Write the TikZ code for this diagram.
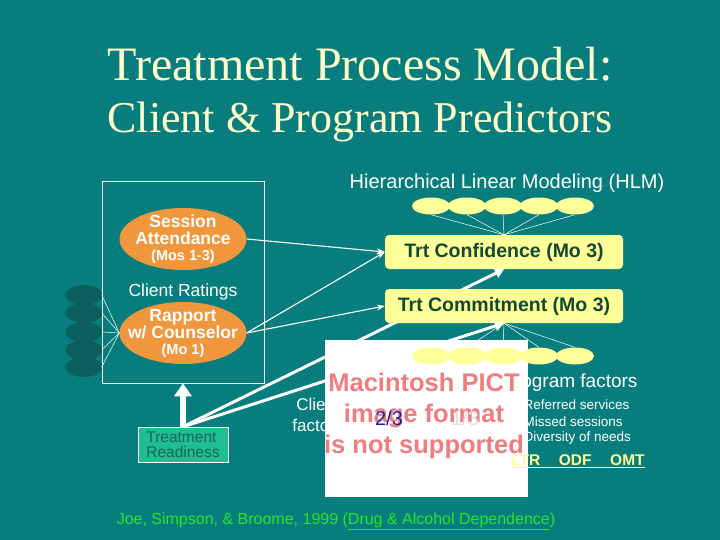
\documentclass[tikz,border=0pt]{standalone}
\usepackage{fontspec}
\setmainfont{Liberation Serif}
\setsansfont{Liberation Sans}
\usetikzlibrary{arrows.meta,shapes.geometric}
\definecolor{bg}{RGB}{8,125,125}
\definecolor{titlecol}{RGB}{255,255,204}
\definecolor{boxyel}{RGB}{255,255,153}
\definecolor{boxtxt}{RGB}{20,72,50}
\definecolor{orng}{RGB}{240,150,60}
\definecolor{darkell}{RGB}{12,95,95}
\definecolor{trgreen}{RGB}{30,190,145}
\definecolor{trtxt}{RGB}{25,100,90}
\definecolor{pict}{RGB}{240,125,125}
\definecolor{citegreen}{RGB}{40,230,40}
\definecolor{pictblue}{RGB}{30,30,170}
\tikzset{
  fs/.style={font=\fontsize{#1}{#1}\selectfont\sffamily},
  yell/.style={ellipse,fill=boxyel,minimum width=38pt,minimum height=17pt,inner sep=0pt},
  dell/.style={ellipse,fill=darkell,minimum width=37pt,minimum height=20pt,inner sep=0pt},
  oell/.style={ellipse,fill=orng,minimum width=127pt,minimum height=62pt,inner xsep=-14pt,inner ysep=-6pt,
     text=white,align=center,font=\fontsize{17.5}{17}\selectfont\sffamily\bfseries},
  ybox/.style={rectangle,rounded corners=4pt,fill=boxyel,minimum width=238pt,minimum height=34pt,
     text=boxtxt,font=\fontsize{19.5}{20}\selectfont\sffamily\bfseries},
  thin/.style={white,line width=0.5pt},
  thinarr/.style={white,line width=1.1pt,-{Stealth[length=8pt,width=6pt]}},
  thickarr/.style={white,line width=3pt,-{Triangle[length=9pt,width=10pt]}},
}
\begin{document}
\begin{tikzpicture}[x=1pt,y=-1pt]
\fill[bg] (0,0) rectangle (720,540);
\useasboundingbox (0,0) rectangle (720,540);
% titles
\node[text=titlecol,font=\fontsize{48}{48}\selectfont] (t1) at (360,64) {Treatment Process Model:};
\node[text=titlecol,font=\fontsize{44}{44}\selectfont] (t2) at (360,122) {Client \& Program Predictors};
\node[text=white,fs=20] (hlm) at (507,183) {Hierarchical Linear Modeling (HLM)};
% left dark ellipses
\foreach \i/\yy in {1/295,2/313,3/332,4/350,5/367}{
  \node[dell] (d\i) at (84,\yy) {};
}
% left box
\node[draw=white,line width=0.6pt,minimum width=162pt,minimum height=202pt,inner sep=0pt] (lb) at (183,282) {};
% orange ellipses
\node[oell] (sess) at (183,239) {Session\\Attendance\\[-1pt]{\fontsize{14.5}{14}\selectfont (Mos 1-3)}};
\node[text=white,fs=17.5] (cr) at (183,292) {Client Ratings};
\node[oell] (rap) at (183,333) {Rapport\\w/ Counselor\\[-1pt]{\fontsize{14.5}{14}\selectfont (Mo 1)}};
\foreach \i in {1,...,5}{
  \coordinate (s\i) at (lb.west |- d\i);
  \draw[thin] (s\i) -- (rap.west);
}
% top yellow ellipses
\foreach \i/\xx in {1/431,2/467,3/503,4/539,5/575}{
  \node[yell] (u\i) at (\xx,206) {};
}
\node[ybox] (conf) at (504,252) {Trt Confidence (Mo 3)};
\foreach \i in {1,...,5}{ \draw[thin] (u\i.south) -- (conf.north); }
% treatment readiness
\node[draw=white,line width=0.5pt,fill=trgreen,minimum width=90pt,minimum height=35pt,inner sep=1pt,
  text=trtxt,align=left,font=\fontsize{15.5}{15.5}\selectfont\sffamily] (tr) at (183,444.5) {Treatment\\Readiness};
% thick line behind commitment box
\draw[thickarr] (tr.north) -- (conf.south);
\node[ybox] (comm) at (504,306) {Trt Commitment (Mo 3)};
\draw[thickarr] (tr.north) -- (comm.south);
\draw[white,line width=5.5pt,-{Triangle[length=13pt,width=17pt]}] (tr.north) -- (lb.south);
% thin arrows
\draw[thinarr] (sess.east) -- (conf.west);
\draw[thinarr] (rap.east) -- (conf.west);
\draw[thinarr] (rap.east) -- (comm.west);
% client factors (behind placeholder)
\node[text=white,align=center,font=\fontsize{17}{21}\selectfont\sffamily] (cf) at (318,415) {Client\\factors};
% program factors
\node[text=white,fs=19,anchor=east] (pf) at (641,383) {Program factors};
\node[text=white,fs=13.5,anchor=west] (pf1) at (520,405) {Referred services};
\node[text=white,fs=13.5,anchor=west] (pf2) at (520,421.5) {Missed sessions};
\node[text=white,fs=13.5,anchor=west] (pf3) at (520,438) {Diversity of needs};
% placeholder image
\node[fill=white,minimum width=203pt,minimum height=157pt,inner sep=0pt] (pict) at (426.5,418.5) {};
\node[text=pict,align=center,font=\fontsize{25.5}{31}\selectfont\sffamily\bfseries] (pt) at (424,416) {Macintosh PICT\\image format\\is not supported};
\node[text=pictblue,fs=20] (n23) at (389,418) {2/3};
\node[text=black!12,fs=20] (n13) at (465,418) {1/3};
% bottom yellow ellipses and fan
\foreach \i/\xx in {1/431,2/467,3/503,4/539,5/575}{
  \node[yell] (b\i) at (\xx,356) {};
  \draw[thin] (comm.south) -- (b\i.north);
}
\node[text=boxyel,font=\fontsize{15.5}{18}\selectfont\sffamily\bfseries] (ltr) at (578,461) {\underline{LTR\hspace{1.2em}ODF\hspace{1.2em}OMT}};
% citation
\node[text=citegreen,fs=16] (cite) at (336,521) {Joe, Simpson, \& Broome, 1999 (\underline{Drug \& Alcohol Dependence})};
\end{tikzpicture}
\end{document}
